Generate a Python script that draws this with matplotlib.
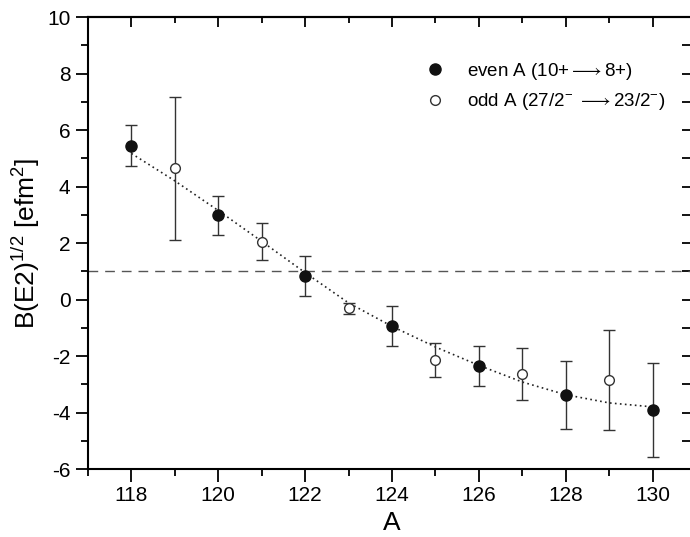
import matplotlib
matplotlib.use("Agg")
import matplotlib.pyplot as plt
from matplotlib.ticker import MultipleLocator
from matplotlib.lines import Line2D

plt.rcParams['font.family'] = ['Liberation Sans', 'DejaVu Sans']
plt.rcParams['mathtext.fontset'] = 'custom'
plt.rcParams['mathtext.rm'] = 'Liberation Sans'
plt.rcParams['mathtext.it'] = 'Liberation Sans:italic'
plt.rcParams['axes.unicode_minus'] = False

# even A (10+ -> 8+)
even_A = [118, 120, 122, 124, 126, 128, 130]
even_B = [5.45, 2.98, 0.84, -0.94, -2.35, -3.38, -3.92]
even_err = [0.72, 0.69, 0.70, 0.72, 0.71, 1.20, 1.67]

# odd A (27/2- -> 23/2-)
odd_A = [119, 121, 123, 125, 127, 129]
odd_B = [4.64, 2.05, -0.31, -2.14, -2.65, -2.85]
odd_err = [2.52, 0.66, 0.19, 0.61, 0.92, 1.78]

# dotted fit curve
fit_A = [118, 119, 120, 121, 122, 123, 124, 125, 126, 127, 128, 129, 130]
fit_B = [5.17, 4.20, 3.15, 2.06, 0.95, -0.12, -0.95, -1.68, -2.33, -2.92, -3.37, -3.66, -3.80]

ref_level = 1.0

fig = plt.figure(figsize=(6.9, 5.37), dpi=100)
ax = fig.add_axes([0.1275, 0.1266, 0.8812, 0.8417])

ax.axhline(ref_level, color='#555555', lw=1.0, dashes=(7, 5))
ax.plot(fit_A, fit_B, color='#222222', lw=1.2, linestyle=(0, (1, 2)))

ax.errorbar(even_A, even_B, yerr=even_err, fmt='o', color='#111111', ecolor='#333333',
            elinewidth=1.0, capsize=4, capthick=1.0, markersize=8, zorder=3)
ax.errorbar(odd_A, odd_B, yerr=odd_err, fmt='o', mfc='white', mec='#333333', ecolor='#333333',
            elinewidth=1.0, capsize=4, capthick=1.0, markersize=7, mew=1.0, zorder=3)

ax.set_xlim(117, 131)
ax.set_ylim(-6, 10)
ax.xaxis.set_major_locator(MultipleLocator(2))
ax.xaxis.set_minor_locator(MultipleLocator(1))
ax.yaxis.set_major_locator(MultipleLocator(2))
ax.yaxis.set_minor_locator(MultipleLocator(1))

ax.tick_params(axis='both', which='major', labelsize=15, length=9, width=1.3, direction='out')
ax.tick_params(axis='both', which='minor', length=5, width=1.3, direction='out')
for spine in ax.spines.values():
    spine.set_linewidth(1.5)

# inward ticks on top and right
secx = ax.secondary_xaxis('top')
secx.xaxis.set_major_locator(MultipleLocator(2))
secx.xaxis.set_minor_locator(MultipleLocator(1))
secx.tick_params(which='major', direction='in', length=7, width=1.3, labeltop=False)
secx.tick_params(which='minor', direction='in', length=4, width=1.3)
secx.spines['top'].set_linewidth(1.5)
secy = ax.secondary_yaxis('right')
secy.yaxis.set_major_locator(MultipleLocator(1))
secy.tick_params(which='major', direction='in', length=10, width=1.3, labelright=False)
secy.spines['right'].set_linewidth(1.5)

ax.set_xlabel('A', fontsize=19)
ax.set_ylabel(r'B(E2)$^{1/2}$ [efm$^{2}$]', fontsize=19)

handles = [Line2D([], [], ls='none', marker='o', color='#111111', markersize=8),
           Line2D([], [], ls='none', marker='o', mfc='white', mec='#333333', markersize=7, mew=1.0)]
labels = [r'even A (10+$\longrightarrow$8+)', r'odd A (27/2$^{-}$ $\longrightarrow$23/2$^{-}$)']
ax.legend(handles, labels, loc='upper left', bbox_to_anchor=(0.528, 0.94), frameon=False, fontsize=13.5,
          handlelength=1.0, handletextpad=1.2, labelspacing=0.5)

fig.savefig('out.png', dpi=100)
